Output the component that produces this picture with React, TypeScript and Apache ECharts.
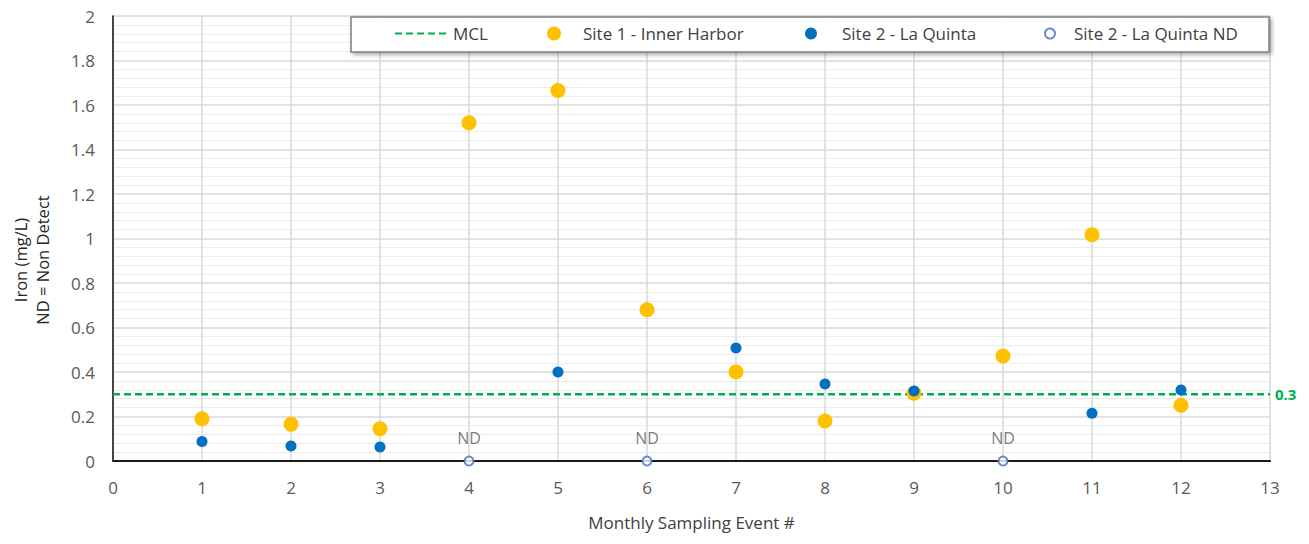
import React, { useEffect, useRef } from "react";
import * as echarts from "echarts";

const events = [1, 2, 3, 4, 5, 6, 7, 8, 9, 10, 11, 12];
const site1 = [0.19, 0.165, 0.145, 1.52, 1.665, 0.68, 0.4, 0.18, 0.305, 0.472, 1.017, 0.25];
const site2 = [0.088, 0.067, 0.063, null, 0.4, null, 0.508, 0.346, 0.315, null, 0.215, 0.319];
const ndEvents = [4, 6, 10];
const ndValues = [0, 0, 0];
const mclValue = 0.3;
const mclRange = [0, 13];
const seriesNames = ["MCL", "Site 1 - Inner Harbor", "Site 2 - La Quinta", "Site 2 - La Quinta ND"];

const FONT = "'Open Sans', Lato, sans-serif";

export default function App() {
  const ref = useRef<HTMLDivElement>(null);
  useEffect(() => {
    if (!ref.current) return;
    const chart = echarts.init(ref.current, undefined, { renderer: "svg" });
    const legendText = { color: "#404040", fontSize: 17, fontFamily: FONT };
    const option: any = {
      animation: false,
      backgroundColor: "#ffffff",
      textStyle: { fontFamily: FONT },
      grid: { left: 113, right: 39, top: 16, bottom: 83 },
      graphic: [
        {
          type: "rect",
          z: 3,
          shape: { x: 351, y: 17, width: 918, height: 35 },
          style: {
            fill: "#ffffff",
            stroke: "#7f7f7f",
            lineWidth: 1.5,
            shadowBlur: 4,
            shadowOffsetX: 2,
            shadowOffsetY: 2,
            shadowColor: "rgba(0,0,0,0.35)",
          },
        },
        {
          type: "text",
          z: 3,
          x: 31,
          y: 260,
          rotation: Math.PI / 2,
          style: {
            text: "Iron (mg/L)\nND = Non Detect",
            align: "center",
            verticalAlign: "middle",
            fontSize: 16.5,
            lineHeight: 22,
            fill: "#262626",
            fontFamily: FONT,
          },
        },
      ],
      legend: [
        {
          z: 5,
          data: [seriesNames[0]],
          left: 394,
          top: 25,
          itemWidth: 53,
          itemHeight: 14,
          padding: 0,
          itemStyle: { opacity: 0 },
          textStyle: legendText,
        },
        {
          z: 5,
          data: [seriesNames[1]],
          left: 547,
          top: 25,
          itemWidth: 14,
          itemHeight: 14,
          padding: 0,
          textStyle: { ...legendText, padding: [0, 0, 0, 17] },
        },
        {
          z: 5,
          data: [seriesNames[2]],
          left: 805,
          top: 25,
          itemWidth: 12,
          itemHeight: 12,
          padding: 0,
          textStyle: { ...legendText, padding: [0, 0, 0, 20] },
        },
        {
          z: 5,
          data: [seriesNames[3]],
          left: 1044,
          top: 25,
          itemWidth: 10,
          itemHeight: 10,
          padding: 0,
          textStyle: { ...legendText, padding: [0, 0, 0, 14] },
        },
      ],
      xAxis: [
        {
          type: "value",
          min: 0,
          max: 13,
          interval: 1,
          name: "Monthly Sampling Event #",
          nameLocation: "middle",
          nameGap: 53,
          nameTextStyle: { color: "#404040", fontSize: 17, fontFamily: FONT },
          axisLine: { show: true, lineStyle: { color: "#bfbfbf", width: 2 } },
          axisTick: { show: false },
          axisLabel: { color: "#595959", fontSize: 17, margin: 18, fontFamily: FONT },
          splitLine: { show: true, lineStyle: { color: "#d9d9d9", width: 1.5 } },
        },
        {
          type: "value",
          position: "top",
          min: 0,
          max: 13,
          interval: 1,
          axisLine: { show: true, lineStyle: { color: "#1a1a1a", width: 2 } },
          axisTick: { show: false },
          axisLabel: { show: false },
          splitLine: { show: false },
        },
      ],
      yAxis: [
        {
          type: "value",
          min: 0,
          max: 2,
          interval: 0.2,
          axisLine: { show: true, lineStyle: { color: "#bfbfbf", width: 1.5 } },
          axisTick: { show: false },
          axisLabel: { color: "#595959", fontSize: 17, margin: 18, fontFamily: FONT },
          splitLine: { show: true, lineStyle: { color: "#d9d9d9", width: 1.5 } },
          minorTick: { show: false, splitNumber: 5 },
          minorSplitLine: { show: true, lineStyle: { color: "#ececec", width: 1 } },
        },
        {
          type: "value",
          position: "right",
          min: 0,
          max: 2,
          interval: 0.2,
          axisLine: { show: true, lineStyle: { color: "#1a1a1a", width: 1.5 } },
          axisTick: { show: false },
          axisLabel: { show: false },
          splitLine: { show: false },
        },
      ],
      series: [
        {
          name: seriesNames[0],
          type: "line",
          xAxisIndex: 0,
          yAxisIndex: 0,
          z: 1,
          symbol: "none",
          data: mclRange.map((x) => [x, mclValue]),
          itemStyle: { color: "#00B050" },
          lineStyle: { color: "#00B050", width: 2.5, type: [7, 4] },
          endLabel: {
            show: true,
            formatter: (p: any) => String(p.value[1]),
            color: "#00B050",
            fontWeight: "bold",
            fontSize: 15,
            distance: 5,
            fontFamily: FONT,
          },
        },
        {
          name: seriesNames[1],
          type: "scatter",
          z: 3,
          symbol: "circle",
          symbolSize: 15,
          itemStyle: { color: "#FFC000", opacity: 1 },
          data: events.map((x, i) => [x, site1[i]]),
        },
        {
          name: seriesNames[2],
          type: "scatter",
          z: 4,
          symbol: "circle",
          symbolSize: 11,
          itemStyle: { color: "#0070C0", opacity: 1 },
          data: events
            .map((x, i) => (site2[i] == null ? null : [x, site2[i]]))
            .filter((d) => d !== null),
        },
        {
          name: seriesNames[3],
          type: "scatter",
          z: 4,
          symbol: "emptyCircle",
          symbolSize: 9,
          itemStyle: { color: "#4472C4", borderColor: "#4472C4", borderWidth: 1.5 },
          label: {
            show: true,
            position: "top",
            distance: 10,
            formatter: "ND",
            color: "#595959",
            fontSize: 16,
            fontFamily: FONT,
          },
          data: ndEvents.map((x, i) => [x, ndValues[i]]),
        },
      ],
    };
    chart.setOption(option);
    return () => chart.dispose();
  }, []);
  return (
    <div
      ref={ref}
      style={{ position: "fixed", left: 0, top: 0, width: 1309, height: 544, background: "#fff" }}
    />
  );
}
